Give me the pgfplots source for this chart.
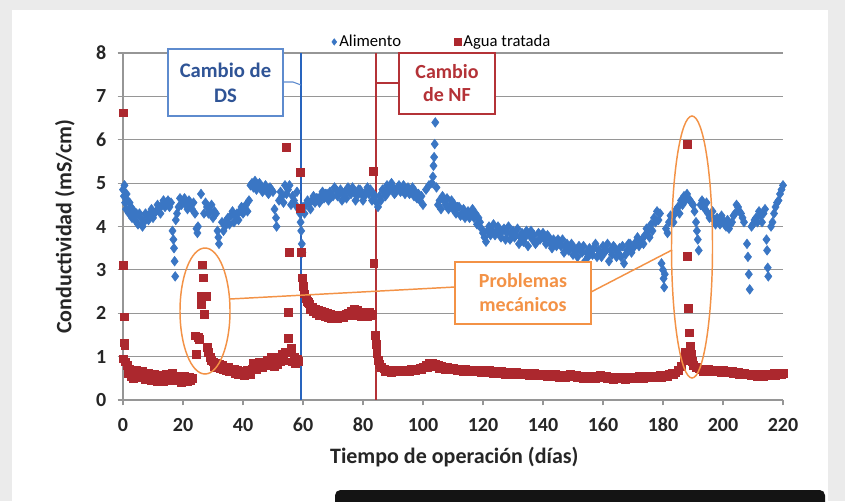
\documentclass[border=0pt]{standalone}
\usepackage{fontspec}
\setmainfont{Carlito}
\usepackage{pgfplots}
\usepackage{pgfplotstable}
\pgfplotsset{compat=1.18}
\definecolor{cblue}{RGB}{58,118,196}
\definecolor{cred}{RGB}{172,40,46}
\definecolor{corange}{RGB}{243,146,70}
\definecolor{lineblue}{RGB}{40,100,190}
\definecolor{linered}{RGB}{180,50,55}
\definecolor{txtblue}{RGB}{47,84,150}
\definecolor{gridgray}{RGB}{150,150,150}

\pgfplotstableread{
x y
0 4.85
0.3 4.7
0.5 4.95
0.7 4.55
1 4.4
1.2 4.75
1.5 4.6
2 4.3
2.2 4.55
2.5 4.45
3 4.2
3.2 4.4
3.5 4.35
4 4.15
4.2 4.25
4.5 4.3
5 4.05
5.5 4.3
6 4.2
6.5 4.0
7 4.1
7.5 4.3
8 4.25
8.5 4.15
9 4.3
9.5 4.4
10 4.2
10.5 4.3
11 4.35
11.5 4.5
12 4.4
12.5 4.3
13 4.5
13.5 4.6
14 4.45
14.5 4.5
15 4.6
15.5 4.45
16 4.55
16.5 3.9
16.8 3.7
17 3.5
17.2 3.2
17.4 2.85
17.6 4.15
18 4.3
18.5 4.45
19 4.65
19.5 4.5
20 4.55
20.5 4.65
21 4.5
21.5 4.4
22 4.6
22.5 4.5
23 4.4
23.5 4.55
24 4.3
24.5 3.95
24.8 3.85
25 4.0
26 4.75
27 4.3
27.5 4.55
28 4.45
28.5 4.3
29 4.35
29.5 4.5
30 4.2
30.5 4.35
31 4.3
31.5 3.9
31.8 3.75
32 3.6
33 4.1
33.5 3.9
34 4.0
34.5 4.15
35 4.2
35.5 4.05
36 4.25
36.5 4.35
37 4.1
37.5 4.25
38 4.3
38.5 4.15
39 4.35
39.5 4.45
40 4.3
40.5 4.45
41 4.5
41.5 4.35
42 4.6
42.5 4.95
43 5.0
43.5 4.9
44 5.05
44.5 4.85
45 4.95
45.5 5.0
46 4.9
46.5 4.8
47 4.85
47.5 4.95
48 4.85
48.5 4.75
49 4.9
49.5 4.85
50 4.8
50.5 4.4
51 4.2
51.2 4.0
52 4.6
52.5 4.8
53 4.7
53.5 4.55
54 4.95
54.5 4.75
55 4.85
55.5 4.95
56 4.5
56.5 4.7
57 4.6
57.5 4.5
58 4.8
58.5 4.4
59 4.3
59.2 4.1
59.4 3.9
59.6 3.6
59.8 3.4
60 4.45
60.5 4.3
61 4.5
61.5 4.6
62 4.55
62.5 4.4
63 4.6
63.5 4.7
64 4.55
64.5 4.65
65 4.65
65.5 4.55
66 4.7
66.5 4.8
67 4.65
67.5 4.75
68 4.75
68.5 4.6
69 4.8
69.5 4.7
70 4.7
70.5 4.9
71 4.85
71.5 4.7
72 4.75
72.5 4.85
73 4.6
73.5 4.75
74 4.8
74.5 4.65
75 4.9
75.5 4.8
76 4.75
76.5 4.9
77 4.8
77.5 4.6
78 4.7
78.5 4.85
79 4.85
79.5 4.75
80 4.6
80.5 4.7
81 4.8
81.5 4.9
82 4.75
82.5 4.85
83 4.6
83.5 4.75
84 4.7
84.5 4.55
85 4.45
85.5 4.7
86 4.6
86.5 4.85
87 4.8
87.5 4.7
88 4.95
88.5 4.8
89 4.85
89.5 5.0
90 4.9
90.5 4.75
91 4.8
91.5 4.9
92 4.95
92.5 4.8
93 4.85
93.5 4.95
94 4.75
94.5 4.85
95 4.9
95.5 4.75
96 4.8
96.5 4.9
97 4.7
97.5 4.8
98 4.65
98.5 4.75
99 4.6
99.5 4.7
100 4.5
101 4.85
102 4.95
103 5.0
103.3 5.15
103.5 5.4
103.7 5.6
103.9 5.9
104.1 6.4
104.5 4.9
105 4.5
105.5 4.6
106 4.4
106.5 4.7
107 4.6
107.5 4.5
108 4.65
108.5 4.4
109 4.5
109.5 4.6
110 4.4
110.5 4.5
111 4.3
111.5 4.45
112 4.45
112.5 4.25
113 4.3
113.5 4.4
114 4.2
114.5 4.3
115 4.35
115.5 4.2
116 4.3
116.5 4.4
117 4.2
117.5 4.3
118 4.05
118.5 4.2
119 4.1
119.5 3.95
120 3.85
120.5 3.75
121 3.65
121.5 3.9
122 4.0
122.5 3.8
123 3.9
123.5 4.05
124 3.8
124.5 3.9
125 4.0
125.5 3.85
126 3.75
126.5 3.9
127 3.95
127.5 3.7
128 3.85
128.5 4.0
129 3.7
129.5 3.85
130 3.9
130.5 3.75
131 3.8
131.5 3.95
132 3.6
132.5 3.75
133 3.85
133.5 3.65
134 3.75
134.5 3.9
135 3.55
135.5 3.8
136 3.9
136.5 3.7
137 3.8
137.5 3.6
138 3.65
138.5 3.85
139 3.7
139.5 3.8
140 3.85
140.5 3.7
141 3.6
141.5 3.8
142 3.75
142.5 3.6
143 3.5
143.5 3.7
144 3.65
144.5 3.55
145 3.7
145.5 3.6
146 3.55
146.5 3.7
147 3.4
147.5 3.55
148 3.6
148.5 3.45
149 3.5
149.5 3.6
150 3.35
150.5 3.5
151 3.45
151.5 3.3
152 3.55
152.5 3.45
153 3.4
153.5 3.55
154 3.2
154.5 3.4
155 3.3
155.5 3.5
156 3.45
156.5 3.35
157 3.5
157.5 3.6
158 3.3
158.5 3.45
159 3.4
159.5 3.3
160 3.55
160.5 3.4
161 3.45
161.5 3.6
162 3.2
162.5 3.45
163 3.35
163.5 3.55
164 3.5
164.5 3.3
165 3.4
165.5 3.5
166 3.3
166.5 3.55
167 3.15
167.5 3.35
168 3.45
168.5 3.6
169 3.6
169.5 3.4
170 3.5
170.5 3.55
171 3.65
171.5 3.75
172 3.55
172.5 3.65
173 3.7
173.5 3.6
174 3.8
174.5 3.95
175 3.9
175.5 3.75
176 4.05
176.5 3.9
177 4.2
177.5 4.1
178 4.35
178.5 4.15
179 4.3
179.5 3.15
180 3.0
180.2 2.8
180.4 2.6
180.6 2.9
181 3.95
181.5 3.85
182 4.1
182.5 4.25
183 4.2
183.5 4.1
184 4.3
184.5 4.4
185 4.45
185.5 4.3
186 4.6
186.5 4.5
187 4.7
187.5 4.6
188 4.75
188.5 4.65
189 4.6
189.5 4.55
190 4.5
190.5 4.35
191 4.1
191.3 3.9
191.6 3.7
191.9 3.45
192.5 4.5
193 4.6
193.5 4.45
194 4.4
194.5 4.55
195 4.3
195.5 4.2
196 4.25
196.5 4.35
197 4.15
197.5 4.05
198 4.2
198.5 4.1
199 4.05
199.5 4.25
200 4.15
200.5 4.05
201 4.0
201.5 4.15
202 3.95
202.5 4.05
203 4.1
203.5 4.25
204 4.3
204.5 4.5
205 4.45
205.5 4.35
206 4.3
206.5 4.2
207 4.1
208 3.6
208.3 3.3
208.6 2.9
208.9 2.55
209.5 4.0
210 4.05
210.5 4.15
211 4.2
211.5 4.1
212 4.35
212.5 4.25
213 4.1
213.5 4.3
214 4.4
214.5 3.7
214.7 3.45
214.9 3.05
215.1 2.85
216 4.0
216.5 4.1
217 4.3
217.5 4.45
218 4.55
218.5 4.6
219 4.75
219.5 4.85
220 4.95
}\alimento

\pgfplotstableread{
x y
0 6.62
0.1 3.1
0.3 1.92
0.5 1.32
0.6 1.25
0.2 0.95
0.8 0.88
1.3 0.8
1.7 0.62
2 0.72
2.5 0.68
2.7 0.55
3 0.66
3.5 0.5
4 0.62
4.5 0.68
5 0.6
5.5 0.52
6 0.58
6.5 0.66
7 0.6
7.5 0.48
8 0.56
8.5 0.62
9 0.55
9.5 0.45
10 0.55
10.5 0.6
11 0.52
11.5 0.42
12 0.5
12.5 0.58
13 0.48
13.5 0.42
14 0.5
14.5 0.6
15 0.52
15.5 0.45
16 0.56
16.5 0.62
17 0.5
17.5 0.46
18 0.45
18.5 0.55
19 0.5
19.5 0.4
20 0.47
20.5 0.55
21 0.5
21.5 0.42
22 0.52
22.5 0.45
23 0.5
24 1.48
24.4 1.05
25 1.45
25.5 1.4
26 2.4
26.2 2.2
26.5 3.12
26.8 2.82
27 1.98
27.8 2.4
28 1.22
28.5 1.1
29 0.98
29.5 0.92
30 0.88
30.5 0.78
31 0.85
31.5 0.75
32 0.82
32.5 0.72
33 0.8
33.5 0.7
34 0.76
34.5 0.68
35 0.75
35.5 0.65
36 0.72
36.5 0.66
37 0.72
37.5 0.62
38 0.7
38.5 0.6
39 0.66
39.5 0.58
40 0.64
40.5 0.56
41 0.62
41.5 0.7
42 0.68
42.5 0.6
43 0.72
43.5 0.85
44 0.8
44.5 0.7
45 0.78
45.5 0.88
46 0.82
46.5 0.75
47 0.88
47.5 0.8
48 0.92
48.5 0.82
49 0.9
49.5 0.98
50 0.86
50.5 0.78
51 0.95
51.5 0.82
52 0.98
52.5 0.88
53 1.05
53.5 0.92
54 1.1
54.5 5.82
55 1.42
55.2 2.02
55.5 3.4
56 1.2
56.5 0.88
57 1.0
57.5 0.85
58 0.95
58.5 0.9
59 5.25
59.2 4.42
59.4 3.4
59.7 2.82
60 2.62
60.5 2.45
61 2.35
61.5 2.28
61.8 2.25
62 2.22
62.5 2.1
63 2.15
63.5 2.05
64 2.1
64.5 2.0
65 2.08
65.5 1.95
66 2.05
66.5 1.95
67 2.02
67.5 1.92
68 2.0
68.5 1.9
69 1.98
69.5 1.88
70 1.95
70.5 1.9
71 1.96
71.5 1.88
72 1.92
72.5 1.95
73 1.94
73.5 1.9
74 1.95
74.5 1.98
75 2.0
75.5 1.95
76 2.05
76.5 2.0
77 2.1
77.5 2.0
78 2.08
78.5 1.95
79 2.02
79.5 1.92
80 1.98
80.5 2.0
81 1.96
81.5 1.92
82 2.02
82.5 1.95
83 1.98
83.3 5.28
83.6 3.15
84 1.5
84.3 1.28
84.6 1.08
85 0.92
85.5 0.82
86 0.76
87 0.72
87.5 0.66
88 0.7
89 0.68
89.5 0.64
90 0.7
91 0.68
91.5 0.66
92 0.7
93 0.7
93.5 0.65
94 0.68
95 0.7
95.5 0.66
96 0.72
97 0.7
97.5 0.68
98 0.72
99 0.74
99.5 0.7
100 0.76
101 0.8
101.5 0.76
102 0.84
103 0.85
103.5 0.78
104 0.82
105 0.8
105.5 0.74
106 0.78
107 0.76
107.5 0.7
108 0.75
109 0.74
109.5 0.7
110 0.74
111 0.72
111.5 0.68
112 0.72
113 0.71
113.5 0.66
114 0.72
115 0.7
115.5 0.66
116 0.7
117 0.69
117.5 0.65
118 0.7
119 0.68
119.5 0.64
120 0.68
121 0.67
121.5 0.63
122 0.68
123 0.66
123.5 0.62
124 0.66
125 0.65
125.5 0.61
126 0.66
127 0.65
127.5 0.6
128 0.64
129 0.65
129.5 0.6
130 0.63
131 0.64
131.5 0.59
132 0.62
133 0.62
133.5 0.58
134 0.63
135 0.61
135.5 0.57
136 0.6
137 0.61
137.5 0.56
138 0.6
139 0.6
139.5 0.56
140 0.59
141 0.6
141.5 0.55
142 0.58
143 0.58
143.5 0.54
144 0.59
145 0.57
145.5 0.53
146 0.56
147 0.57
147.5 0.52
148 0.58
149 0.6
149.5 0.54
150 0.58
151 0.57
151.5 0.52
152 0.55
153 0.54
153.5 0.5
154 0.55
155 0.53
155.5 0.49
156 0.54
157 0.52
157.5 0.5
158 0.55
159 0.58
159.5 0.52
160 0.56
161 0.54
161.5 0.5
162 0.52
163 0.51
163.5 0.48
164 0.52
165 0.53
165.5 0.49
166 0.52
167 0.51
167.5 0.48
168 0.52
169 0.53
169.5 0.49
170 0.52
171 0.53
171.5 0.5
172 0.54
173 0.53
173.5 0.5
174 0.55
175 0.54
175.5 0.51
176 0.55
177 0.56
177.5 0.52
178 0.55
179 0.57
179.5 0.53
180 0.58
181 0.57
181.5 0.55
182 0.6
183 0.62
183.5 0.58
184 0.63
185 0.68
186 0.78
187 0.92
187.5 1.1
188 5.9
188.2 3.32
188.5 2.12
188.7 1.55
189 1.25
189.3 1.05
189.7 0.9
190 0.8
191 0.75
192 0.72
193 0.7
193.5 0.66
194 0.71
195 0.72
195.5 0.67
196 0.7
197 0.7
197.5 0.65
198 0.68
199 0.69
199.5 0.64
200 0.68
201 0.67
201.5 0.63
202 0.66
203 0.66
203.5 0.62
204 0.65
205 0.64
205.5 0.6
206 0.63
207 0.62
207.5 0.58
208 0.6
209 0.6
209.5 0.56
210 0.58
211 0.6
211.5 0.55
212 0.59
213 0.58
213.5 0.55
214 0.58
215 0.6
215.5 0.56
216 0.6
217 0.61
217.5 0.57
218 0.6
219 0.62
219.5 0.58
220 0.62
}\agua

\begin{document}
\begin{tikzpicture}
\begin{scope}[x=0.75pt,y=-0.75pt]
\useasboundingbox (0,0) rectangle (845,501);
\fill[black!8] (0,0) rectangle (845,501);
\fill[white] (12,10) rectangle (828,501);
\fill[black!92, rounded corners=4pt] (335,490) rectangle (825,515);
\end{scope}

\begin{axis}[
  at={(92.25pt,-300pt)}, anchor=south west,
  scale only axis, width=495pt, height=260.25pt,
  xmin=0, xmax=220, ymin=0, ymax=8,
  xtick={0,20,...,220}, ytick={0,1,...,8},
  axis lines*=left,
  axis line style={gridgray, line width=0.8pt},
  tick style={gridgray, line width=0.8pt},
  tick align=outside, major tick length=4pt,
  ymajorgrids, grid style={gridgray, line width=0.9pt},
  /pgf/number format/assume math mode=true,
  ticklabel style={font=\fontsize{15}{18}\selectfont\bfseries, text=black!85},
  xticklabel style={yshift=-6pt},
  yticklabel style={xshift=-5pt},
  xlabel={Tiempo de operación (días)},
  ylabel={Conductividad (mS/cm)},
  every axis x label/.style={at={(axis description cs:0.502,-0.164)}, anchor=center,
    font=\fontsize{16.5}{19}\selectfont\bfseries, text=black!85},
  every axis y label/.style={at={(axis description cs:-0.088,0.5)}, rotate=90, anchor=center,
    font=\fontsize{16.5}{19}\selectfont\bfseries, text=black!85},
  legend style={at={(axis description cs:0.31,1.032)}, anchor=west, draw=none, fill=none,
    font=\fontsize{12.5}{14}\selectfont, legend columns=2,
    /tikz/every even column/.append style={column sep=38pt}},
  legend image code/.code={\draw[#1, mark size=2.4pt] plot[only marks] coordinates {(0.05cm,0cm)};},
  clip=false,
]
\addplot[only marks, mark=diamond*, mark size=3.6pt, color=cblue, mark options={draw=cblue, fill=cblue}] table[x=x,y=y] {\alimento};
\addlegendentry{Alimento}
\addplot[only marks, mark=square*, mark size=2.9pt, color=cred, mark options={draw=cred, fill=cred}] table[x=x,y=y] {\agua};
\addlegendentry{Agua tratada}
\draw[lineblue, line width=1.5pt] (axis cs:59.2,0) -- (axis cs:59.2,8);
\draw[linered, line width=1.5pt] (axis cs:84.2,0) -- (axis cs:84.2,8);
\end{axis}

\begin{scope}[x=0.75pt,y=-0.75pt]
% Cambio de DS
\draw[lineblue!75, line width=0.8pt] (283,82) -- (293,82) -- (301,85);
\draw[lineblue!75, line width=0.8pt, fill=white] (168,49) rectangle (283,116);
\node[align=center, text=txtblue, font=\fontsize{15.5}{18.5}\selectfont\bfseries] at (225.5,82.5) {Cambio de\\DS};
% Cambio de NF
\draw[linered, line width=0.8pt] (376,83) -- (399,83);
\draw[linered, line width=0.8pt, fill=white] (399,53) rectangle (495,114);
\node[align=center, text=linered, font=\fontsize{15}{17}\selectfont\bfseries] at (447,83) {Cambio\\de NF};
% Problemas mecanicos
\draw[corange, line width=1.1pt] (230,299) -- (455,287);
\draw[corange, line width=1.1pt] (591,292) -- (672,250);
\draw[corange, line width=1.1pt] (205,311) ellipse [x radius=25, y radius=63];
\draw[corange, line width=1.1pt] (692,247) ellipse [x radius=20.5, y radius=131];
\draw[corange, line width=1.1pt, fill=white] (455,262) rectangle (591,324);
\node[align=center, text=corange, font=\fontsize{15}{18}\selectfont\bfseries] at (523,293) {Problemas\\mecánicos};
\end{scope}
\end{tikzpicture}
\end{document}
